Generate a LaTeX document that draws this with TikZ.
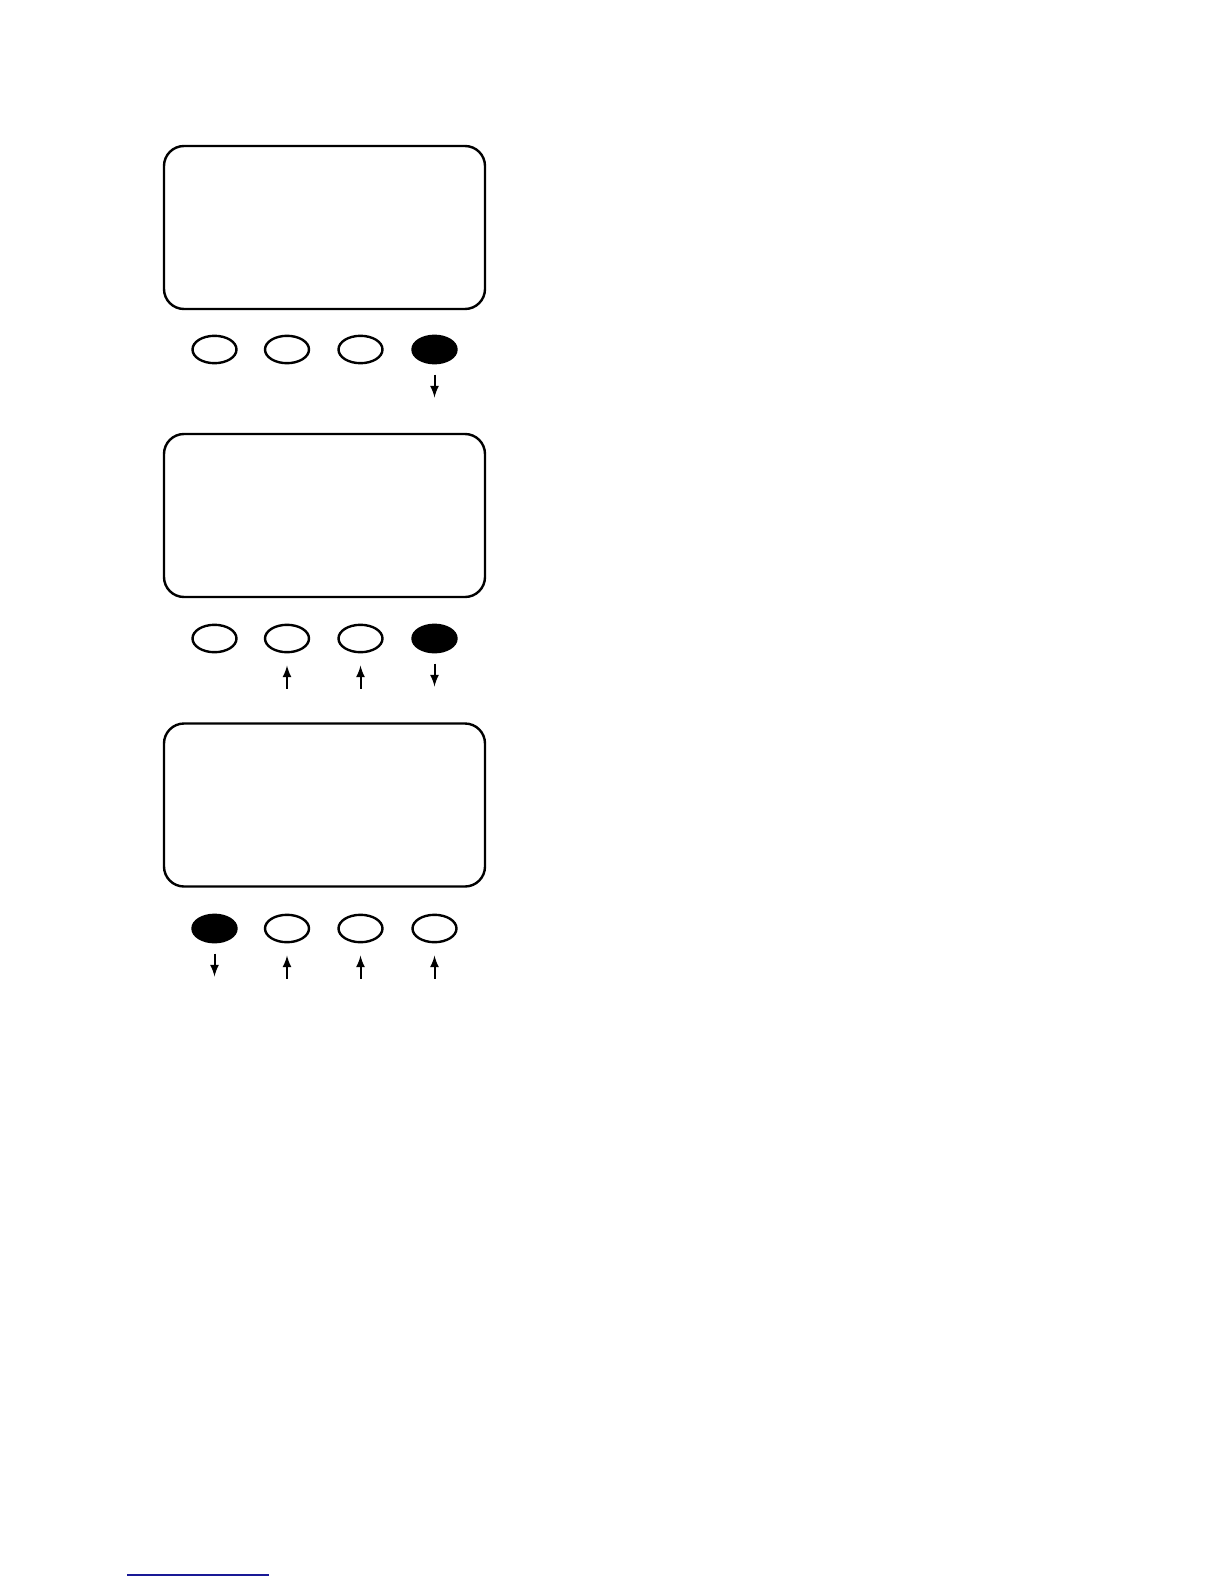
\documentclass[tikz,border=0pt]{standalone}
\usetikzlibrary{shapes.geometric,calc}
\definecolor{linkblue}{RGB}{25,25,150}
\begin{document}
\begin{tikzpicture}[>=latex, x=0.5pt, y=-0.5pt, line width=1.2pt,
    screen/.style={draw, rounded corners=10pt, minimum width=160.5pt, minimum height=81.5pt, inner sep=0pt},
    key/.style={draw, ellipse, minimum width=22pt, minimum height=13.7pt, inner sep=0pt},
    keyon/.style={key, fill=black},
    push/.style={->, line width=1pt}]
    \useasboundingbox (0,0) rectangle (1224,1584);
    % display windows
    \node[screen] (scr1) at (324.5,227.5) {};
    \node[screen] (scr2) at (324.5,515.5) {};
    \node[screen] (scr3) at (324.5,805) {};
    % keys, first display
    \node[key]   (ka1) at (214.5,349.5) {};
    \node[key]   (ka2) at (287,349.5) {};
    \node[key]   (ka3) at (360.5,349.5) {};
    \node[keyon] (ka4) at (434.5,349.5) {};
    % keys, second display
    \node[key]   (kb1) at (214.5,638.5) {};
    \node[key]   (kb2) at (287,638.5) {};
    \node[key]   (kb3) at (360.5,638.5) {};
    \node[keyon] (kb4) at (434.5,638.5) {};
    % keys, third display
    \node[keyon] (kc1) at (214.5,928.5) {};
    \node[key]   (kc2) at (287,928.5) {};
    \node[key]   (kc3) at (360.5,928.5) {};
    \node[key]   (kc4) at (434.5,928.5) {};
    % press / release arrows
    \draw[push] ($(ka4)+(0,25)$) -- ($(ka4)+(0,48)$);
    \draw[push] ($(kb2)+(0,50)$) -- ($(kb2)+(0,27)$);
    \draw[push] ($(kb3)+(0,50)$) -- ($(kb3)+(0,27)$);
    \draw[push] ($(kb4)+(0,25)$) -- ($(kb4)+(0,48)$);
    \draw[push] ($(kc1)+(0,25)$) -- ($(kc1)+(0,48)$);
    \draw[push] ($(kc2)+(0,50)$) -- ($(kc2)+(0,27)$);
    \draw[push] ($(kc3)+(0,50)$) -- ($(kc3)+(0,27)$);
    \draw[push] ($(kc4)+(0,50)$) -- ($(kc4)+(0,27)$);
    % footnote rule
    \draw[linkblue, line width=0.7pt] (127,1575) -- (269,1575);
\end{tikzpicture}
\end{document}
